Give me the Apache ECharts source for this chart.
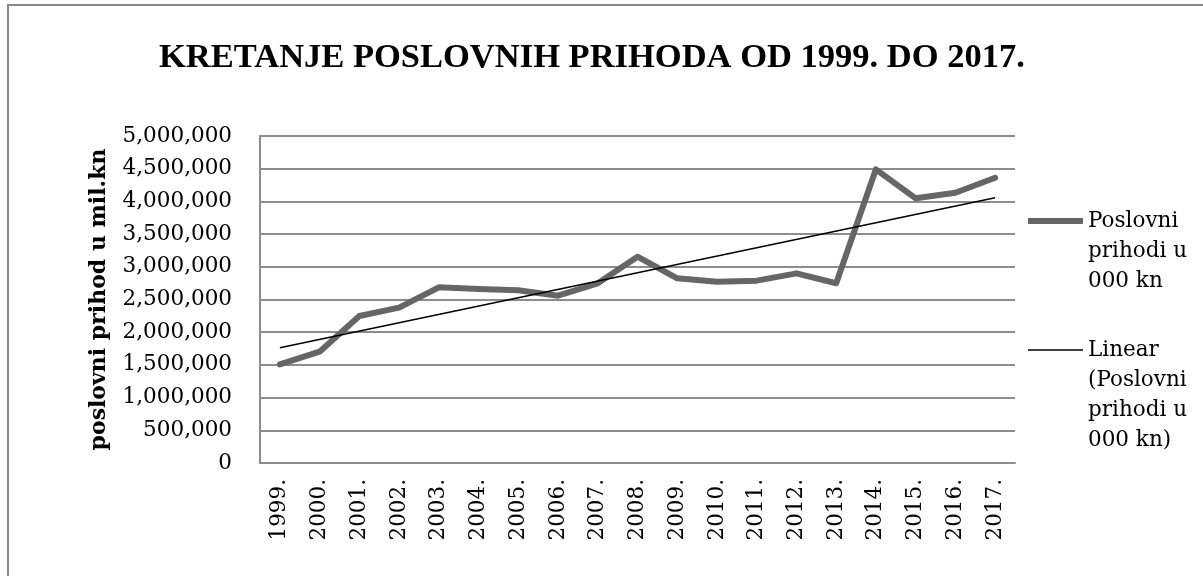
<!DOCTYPE html>
<html>
<head>
<meta charset="utf-8">
<script src="https://cdn.jsdelivr.net/npm/echarts@6/dist/echarts.min.js"></script>
<style>
html,body{margin:0;padding:0;background:#fff;}
#chart{width:1203px;height:576px;}
</style>
</head>
<body>
<div id="chart"></div>
<script>
var years = ['1999.','2000.','2001.','2002.','2003.','2004.','2005.','2006.','2007.','2008.','2009.','2010.','2011.','2012.','2013.','2014.','2015.','2016.','2017.'];
var prihodi = [1509000,1702000,2248000,2375000,2686000,2660000,2640000,2558000,2748000,3155000,2824000,2773000,2788000,2900000,2748000,4490000,4047000,4133000,4362000];
var trendEnds = [1763000, 4057000];
var yTicks = [0, 500000, 5000000];
var seriesNames = ['Poslovni prihodi u 000 kn', 'Linear (Poslovni prihodi u 000 kn)'];
var legendLines = [['Poslovni','prihodi u','000 kn'], ['Linear','(Poslovni','prihodi u','000 kn)']];
var titleText = 'KRETANJE POSLOVNIH PRIHODA OD 1999. DO 2017.';
var yName = 'poslovni prihod u mil.kn';

var trendData = years.map(function(_, i){
  if (i === 0) return trendEnds[0];
  if (i === years.length - 1) return trendEnds[1];
  return null;
});

function fmt(v){ return String(v).replace(/\B(?=(\d{3})+(?!\d))/g, ','); }

// legend text: pad with leading empty lines so the first line sits beside the icon
function legendText(name){
  var lines = legendLines[seriesNames.indexOf(name)];
  var pad = [];
  for (var i = 0; i < lines.length - 1; i++) pad.push('');
  return pad.concat(lines).join('\n');
}

var serif = 'DejaVu Serif';
var chart = echarts.init(document.getElementById('chart'), null, {renderer:'canvas'});
chart.setOption({
  animation: false,
  backgroundColor: '#ffffff',
  graphic: [{
    type: 'rect', shape: {x: 8, y: 5, width: 1230, height: 620},
    style: {fill: 'none', stroke: '#888888', lineWidth: 2}, z: -1
  }],
  title: {
    text: titleText, left: 159, top: 41, padding: 0,
    textStyle: {fontFamily: 'Liberation Serif', fontWeight: 'bold', fontSize: 34.5, color: '#000'}
  },
  grid: {left: 260, right: 188, top: 136, bottom: 113, containLabel: false},
  legend: {
    orient: 'vertical', left: 1028, top: 146, padding: 0, itemGap: -51,
    itemWidth: 55, itemHeight: 14, selectedMode: false,
    textStyle: {fontFamily: serif, fontSize: 21.5, color: '#000', lineHeight: 30},
    formatter: legendText,
    data: [
      {name: seriesNames[0], icon: 'path://M0,0H55V6H0Z', itemStyle: {color: '#666666', borderWidth: 0}},
      {name: seriesNames[1], icon: 'path://M0,0H55V1.5H0Z', itemStyle: {color: '#000000', borderWidth: 0}}
    ]
  },
  xAxis: {
    type: 'category', data: years, boundaryGap: true,
    axisLine: {lineStyle: {color: '#8c8c8c', width: 2}},
    axisTick: {show: false},
    axisLabel: {rotate: 90, margin: 16, fontFamily: serif, fontSize: 21.5, color: '#000', interval: 0}
  },
  yAxis: {
    type: 'value', min: yTicks[0], max: yTicks[2], interval: yTicks[1],
    name: yName, nameLocation: 'middle', nameGap: 150, nameRotate: 90,
    nameTextStyle: {fontFamily: serif, fontWeight: 'bold', fontSize: 22, color: '#000'},
    axisLine: {show: true, lineStyle: {color: '#8c8c8c', width: 2}},
    axisTick: {show: false},
    splitLine: {lineStyle: {color: '#8c8c8c', width: 2}},
    axisLabel: {margin: 28, fontFamily: serif, fontSize: 21.5, color: '#000', formatter: fmt}
  },
  series: [
    {name: seriesNames[0], type: 'line', data: prihodi, symbol: 'none', color: '#666666',
     lineStyle: {color: '#666666', width: 6, cap: 'round', join: 'round'}, z: 2},
    {name: seriesNames[1], type: 'line', data: trendData, connectNulls: true, symbol: 'none', color: '#000000',
     lineStyle: {color: '#000000', width: 1.5}, z: 3}
  ]
});
</script>
</body>
</html>
